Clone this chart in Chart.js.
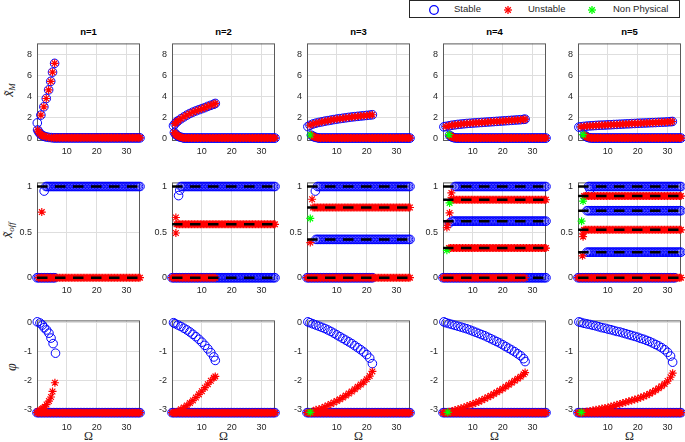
<!DOCTYPE html>
<html>
<head>
<meta charset="utf-8">
<script src="https://cdn.jsdelivr.net/npm/chart.js@4.4.1/dist/chart.umd.min.js"></script>
<style>
body { margin: 0; width: 685px; height: 442px; position: relative; overflow: hidden; background: #fff; font-family: "Liberation Sans", Arial, sans-serif; }
canvas { position: absolute; }
.ttl { position: absolute; width: 103px; text-align: center; font-weight: bold; font-size: 9.5px; line-height: 12px; color: #000; }
.xlab { position: absolute; width: 103px; text-align: center; font-family: "Liberation Serif", serif; font-size: 12px; line-height: 14px; color: #262626; }
.ylab { position: absolute; width: 70px; height: 14px; line-height: 14px; text-align: center; font-family: "Liberation Serif", serif; font-size: 14px; color: #262626; transform: rotate(-90deg); white-space: nowrap; }
.ylab sub { font-size: 9px; font-style: italic; vertical-align: -2px; }
#legend { position: absolute; left: 409px; top: 0px; width: 269px; height: 16px; border: 1px solid #262626; background: #fff; font-size: 9.5px; color: #262626; }
#legend span { position: absolute; top: 2px; line-height: 12px; }
#legend svg { position: absolute; top: 3px; }
</style>
</head>
<body>

<div id="legend">
  <svg style="left:18px" width="12" height="12"><circle cx="6" cy="6" r="4.3" fill="none" stroke="#0000ff" stroke-width="1.3"/></svg>
  <span style="left:44px">Stable</span>
  <svg style="left:92px" width="12" height="12" stroke="#ff0000" stroke-width="1.3"><line x1="6" y1="2" x2="6" y2="10"/><line x1="2" y1="6" x2="10" y2="6"/><line x1="3.2" y1="3.2" x2="8.8" y2="8.8"/><line x1="3.2" y1="8.8" x2="8.8" y2="3.2"/></svg>
  <span style="left:118px">Unstable</span>
  <svg style="left:176px" width="12" height="12" stroke="#00ff00" stroke-width="1.3"><line x1="6" y1="2" x2="6" y2="10"/><line x1="2" y1="6" x2="10" y2="6"/><line x1="3.2" y1="3.2" x2="8.8" y2="8.8"/><line x1="3.2" y1="8.8" x2="8.8" y2="3.2"/></svg>
  <span style="left:203px">Non Physical</span>
</div>

<div class="ylab" style="left:-26px; top:83px;"><i>x&#771;</i><sub>M</sub></div>
<div class="ylab" style="left:-27px; top:223px;"><i>x&#771;</i><sub>off</sub></div>
<div class="ylab" style="left:-23px; top:360px;"><i>&#966;</i></div>

<script>
// panel titles and shared tick values
var titles = ["n=1", "n=2", "n=3", "n=4", "n=5"];
var xTicks = [10, 20, 30];
var ampTicks = [0, 2, 4, 6, 8];
var offTicks = [0, 0.5, 1];
var phaseTicks = [-3, -2, -1, 0];

// frequency samples used by the flat branches
var omegaGrid = [0, 0.5, 1, 1.5, 2, 2.5, 3, 3.5, 4, 4.5, 5, 5.5, 6, 6.5, 7, 7.5, 8, 8.5, 9, 9.5,
  10, 10.5, 11, 11.5, 12, 12.5, 13, 13.5, 14, 14.5, 15, 15.5, 16, 16.5, 17, 17.5, 18, 18.5, 19, 19.5,
  20, 20.5, 21, 21.5, 22, 22.5, 23, 23.5, 24, 24.5, 25, 25.5, 26, 26.5, 27, 27.5, 28, 28.5, 29, 29.5,
  30, 30.5, 31, 31.5, 32, 32.5, 33, 33.5, 34, 34.5];

// ---- row 1 : amplitude x_M ----
var ampUpperX = [
  [0.1, 1.3, 2.3, 3.1, 3.9, 4.6, 5.2, 5.9],
  [0.5, 1, 1.5, 2, 3, 4, 5, 6, 7, 8, 9, 10, 11, 12, 13, 14, 14.5],
  [0.3, 1, 2, 3, 4, 5, 6, 7, 8, 9, 10, 11, 12, 13, 14, 15, 16, 17, 18, 19, 20, 21, 21.9],
  [0.3, 1, 2, 3, 4, 5, 6, 7, 8, 9, 10, 11, 12, 13, 14, 15, 16, 17, 18, 19, 20, 21, 22, 23, 24, 25, 26, 27, 27.5],
  [0.3, 1, 2, 3, 4, 5, 6, 7, 8, 9, 10, 11, 12, 13, 14, 15, 16, 17, 18, 19, 20, 21, 22, 23, 24, 25, 26, 27, 28, 29, 30, 31, 31.6]
];
var ampUpperY = [
  [1.52, 2.27, 3.06, 3.85, 4.67, 5.48, 6.36, 7.2],
  [1.25, 1.45, 1.6, 1.72, 1.92, 2.1, 2.27, 2.42, 2.55, 2.67, 2.78, 2.88, 2.98, 3.1, 3.2, 3.3, 3.38],
  [1.17, 1.3, 1.42, 1.5, 1.57, 1.63, 1.69, 1.74, 1.79, 1.84, 1.89, 1.93, 1.97, 2.01, 2.05, 2.09, 2.12, 2.15, 2.18, 2.21, 2.24, 2.27, 2.3],
  [1.15, 1.19, 1.25, 1.3, 1.34, 1.38, 1.41, 1.44, 1.47, 1.49, 1.51, 1.53, 1.55, 1.57, 1.59, 1.61, 1.63, 1.65, 1.67, 1.69, 1.71, 1.73, 1.75, 1.77, 1.79, 1.81, 1.83, 1.86, 1.88],
  [1.12, 1.15, 1.19, 1.22, 1.24, 1.26, 1.28, 1.3, 1.31, 1.32, 1.34, 1.35, 1.37, 1.38, 1.4, 1.41, 1.43, 1.44, 1.46, 1.47, 1.49, 1.5, 1.51, 1.52, 1.54, 1.55, 1.56, 1.58, 1.59, 1.6, 1.62, 1.64, 1.66]
];
var ampLowerX = [
  [0.2, 0.6, 1, 1.5, 2, 2.6, 3.2, 4, 4.8],
  [0.8, 1.2, 1.6, 2, 2.5, 3, 3.6],
  [1.5, 2, 2.5, 3, 3.6],
  [2.2, 2.6, 3, 3.5, 4],
  [2.2, 2.6, 3, 3.5, 4]
];
var ampLowerY = [
  [0.85, 0.65, 0.5, 0.38, 0.3, 0.23, 0.18, 0.14, 0.12],
  [0.6, 0.45, 0.35, 0.27, 0.2, 0.15, 0.12],
  [0.35, 0.25, 0.18, 0.14, 0.11],
  [0.35, 0.25, 0.18, 0.13, 0.1],
  [0.35, 0.25, 0.18, 0.13, 0.1]
];
var ampTailLevel = [0.1, 0.08, 0.08, 0.08, 0.08];
var ampTailFrom = [5.5, 4, 4, 4.5, 4.5];
var ampGreenX = [[], [], [1.1], [2], [1.7]];
var ampGreenY = [[], [], [0.37], [0.4], [0.4]];

// ---- row 2 : x_off levels ----
var offStableLevels = [[1, 0], [1, 0], [1, 0.42, 0], [1, 0.62, 0], [1, 0.735, 0.28, 0]];
var offStableFrom   = [[3, 0], [3, 0], [3.5, 2.8, 0], [4, 3, 0], [3.5, 3, 3, 0]];
var offStableTo     = [[34.5, 6], [34.5, 34.5], [34.5, 34.5, 22], [34.5, 34.5, 34.5], [34.5, 34.5, 34.5, 32.5]];
var offUnstableLevels = [[0], [0.585, 0], [0.77, 0], [0.855, 0.325, 0], [0.895, 0.525, 0]];
var offUnstableFrom   = [[0.5], [1.5, 0], [2, 0], [2.5, 2, 0], [2, 2, 0]];
var offUnstableTo     = [[34.5], [34.5, 14.5], [34.5, 34.5], [34.5, 34.5, 27.5], [34.5, 34.5, 34.5]];
var offStableExtraX = [[2.4], [2.2, 2.6], [2.8], [2.2], [4]];
var offStableExtraY = [[0.95], [0.9, 0.96], [0.95], [0.6], [0.97]];
var offUnstableExtraX = [[1.6], [1.3, 1.3], [1.7, 1.1], [2.8, 2.2, 1.3, 1.6], [1.7, 1.7, 1.5]];
var offUnstableExtraY = [[0.72], [0.66, 0.49], [0.86, 0.385], [0.93, 0.71, 0.55, 0.6], [0.45, 0.48, 0.24]];
var offGreenX = [[], [], [1.1], [2.2, 1.3], [1.7, 1.2]];
var offGreenY = [[], [], [0.65], [0.82, 0.3], [0.84, 0.62]];
var offDashLevels = [[1, 0], [1, 0.585, 0], [1, 0.77, 0.42, 0], [1, 0.855, 0.62, 0.325, 0], [1, 0.895, 0.735, 0.525, 0.28, 0]];

// ---- row 3 : phase ----
var phaseStableX = [
  [0.1, 1.0, 1.8, 2.4, 3.2, 4.0, 4.7, 5.4, 6.2],
  [0.5, 1, 2, 3, 4, 5, 6, 7, 8, 9, 10, 11, 12, 13, 14, 14.5],
  [0.3, 1, 2, 3, 4, 5, 6, 7, 8, 9, 10, 11, 12, 13, 14, 15, 16, 17, 18, 19, 20, 21, 21.9],
  [0.3, 1, 2, 3, 4, 5, 6, 7, 8, 9, 10, 11, 12, 13, 14, 15, 16, 17, 18, 19, 20, 21, 22, 23, 24, 25, 26, 27, 27.5],
  [0.3, 1, 2, 3, 4, 5, 6, 7, 8, 9, 10, 11, 12, 13, 14, 15, 16, 17, 18, 19, 20, 21, 22, 23, 24, 25, 26, 27, 28, 29, 30, 31, 31.7]
];
var phaseStableY = [
  [0.03, -0.01, -0.08, -0.17, -0.25, -0.36, -0.53, -0.72, -1.05],
  [0, -0.03, -0.08, -0.13, -0.19, -0.25, -0.32, -0.4, -0.48, -0.57, -0.67, -0.78, -0.9, -1.03, -1.18, -1.3],
  [0.03, 0, -0.04, -0.08, -0.12, -0.16, -0.2, -0.25, -0.3, -0.36, -0.42, -0.48, -0.54, -0.6, -0.66, -0.72, -0.79, -0.86, -0.93, -1.01, -1.1, -1.22, -1.41],
  [0.03, 0, -0.03, -0.06, -0.09, -0.12, -0.15, -0.18, -0.21, -0.25, -0.29, -0.33, -0.37, -0.41, -0.45, -0.5, -0.55, -0.6, -0.65, -0.7, -0.76, -0.82, -0.88, -0.94, -1.0, -1.07, -1.14, -1.24, -1.34],
  [0.03, 0.01, -0.02, -0.04, -0.06, -0.09, -0.11, -0.14, -0.17, -0.19, -0.22, -0.24, -0.27, -0.3, -0.32, -0.35, -0.38, -0.41, -0.44, -0.47, -0.5, -0.54, -0.57, -0.61, -0.65, -0.7, -0.75, -0.8, -0.86, -0.93, -1.02, -1.15, -1.36]
];
var phaseUnstableX = [
  [0.4, 1.0, 1.6, 2.0, 2.6, 3.2, 4.0, 4.7, 5.2, 6.0],
  [1, 2, 3, 4, 5, 6, 7, 8, 9, 10, 11, 12, 13, 14, 14.5],
  [1, 2, 3, 4, 5, 6, 7, 8, 9, 10, 11, 12, 13, 14, 15, 16, 17, 18, 19, 20, 21, 21.9],
  [1, 2, 3, 4, 5, 6, 7, 8, 9, 10, 11, 12, 13, 14, 15, 16, 17, 18, 19, 20, 21, 22, 23, 24, 25, 26, 27, 27.5],
  [1, 2, 3, 4, 5, 6, 7, 8, 9, 10, 11, 12, 13, 14, 15, 16, 17, 18, 19, 20, 21, 22, 23, 24, 25, 26, 27, 28, 29, 30, 31, 31.7]
];
var phaseUnstableY = [
  [-3.05, -3.02, -2.98, -2.95, -2.9, -2.82, -2.7, -2.56, -2.37, -2.07],
  [-3.1, -3.05, -2.98, -2.92, -2.85, -2.77, -2.68, -2.58, -2.47, -2.36, -2.24, -2.12, -2.0, -1.9, -1.85],
  [-3.1, -3.05, -3.0, -2.98, -2.95, -2.9, -2.85, -2.8, -2.75, -2.7, -2.64, -2.58, -2.51, -2.44, -2.37, -2.29, -2.21, -2.13, -2.05, -1.95, -1.84, -1.68],
  [-3.1, -3.07, -3.04, -3.01, -2.98, -2.95, -2.92, -2.88, -2.84, -2.8, -2.76, -2.72, -2.67, -2.62, -2.57, -2.52, -2.46, -2.4, -2.34, -2.28, -2.21, -2.14, -2.07, -2.0, -1.93, -1.86, -1.78, -1.72],
  [-3.1, -3.08, -3.06, -3.04, -3.02, -3.0, -2.98, -2.96, -2.94, -2.92, -2.89, -2.86, -2.83, -2.8, -2.77, -2.74, -2.71, -2.68, -2.65, -2.62, -2.58, -2.54, -2.5, -2.45, -2.39, -2.33, -2.26, -2.19, -2.11, -2.01, -1.88, -1.74]
];
var phaseFlatLevel = -3.1;
var phaseGreenX = [[], [], [1.1], [1.6], [1.1]];
var phaseGreenY = [[], [], [-3.09], [-3.09], [-3.09]];

// layout of the 3x5 grid (plot areas in page pixels)
var colLeft = [37, 172, 307, 443, 578];
var rowTop = [39, 178, 316];
var rowH = [102, 102, 101];
var plotW = 103;
var yMin = [-0.2, -0.025, -3.25];
var yMax = [9.1, 1.045, 0.08];
var yTickSets = [ampTicks, offTicks, phaseTicks];

function branchPoints(xs, ys) {
  var out = [];
  for (var i = 0; i < xs.length; i++) out.push({x: xs[i], y: ys[i]});
  return out;
}
function levelPoints(level, from, to) {
  var out = [];
  omegaGrid.forEach(function (w) { if (w >= from && w <= to) out.push({x: w, y: level}); });
  return out;
}

var boxPlugin = {
  id: 'box',
  beforeDatasetsDraw: function (chart) {
    var a = chart.chartArea, c = chart.ctx;
    c.save();
    c.strokeStyle = '#5a5a5a';
    c.lineWidth = 1;
    c.strokeRect(a.left + 0.5, a.top + 0.5, a.right - a.left - 1, a.bottom - a.top - 1);
    c.restore();
  }
};

function stableSet(data) {
  return { data: data, pointStyle: 'circle', pointRadius: 4.3, pointBorderColor: '#0000ff',
    pointBackgroundColor: 'rgba(0,0,0,0)', pointBorderWidth: 1, showLine: false, order: 3, clip: false };
}
function unstableSet(data) {
  return { data: data, pointStyle: 'star', pointRadius: 4, pointBorderColor: '#ff0000',
    pointBackgroundColor: '#ff0000', pointBorderWidth: 1.2, showLine: false, order: 2, clip: false };
}
function greenSet(data) {
  return { data: data, pointStyle: 'star', pointRadius: 4, pointBorderColor: '#00ff00',
    pointBackgroundColor: '#00ff00', pointBorderWidth: 1.2, showLine: false, order: 1, clip: false };
}
function dashSet(level) {
  return { data: levelPoints(level, 0, 34.5), showLine: true, borderColor: '#000', borderWidth: 2.5,
    borderDash: [10.5, 7.5], pointRadius: 0, order: 0 };
}

function makePanel(row, col, datasets) {
  var cv = document.createElement('canvas');
  cv.width = 32 + plotW + 6;
  cv.height = 6 + rowH[row] + 20;
  cv.style.left = (colLeft[col] - 32) + 'px';
  cv.style.top = (rowTop[row] - 6) + 'px';
  document.body.appendChild(cv);
  var tickSet = yTickSets[row];
  new Chart(cv.getContext('2d'), {
    type: 'scatter',
    data: { datasets: datasets },
    plugins: [boxPlugin],
    options: {
      responsive: false, animation: false, events: [],
      layout: { padding: { top: 6, right: 6, left: 0, bottom: 0 } },
      plugins: { legend: { display: false }, tooltip: { enabled: false } },
      scales: {
        x: {
          type: 'linear', min: 0, max: 34.5,
          afterBuildTicks: function (s) { s.ticks = xTicks.map(function (v) { return {value: v}; }); },
          afterFit: function (s) { s.height = 20; },
          grid: { color: '#dedede', drawTicks: false },
          border: { display: false },
          ticks: { color: '#262626', font: { family: 'Liberation Sans', size: 9 }, padding: 5, maxRotation: 0, autoSkip: false }
        },
        y: {
          type: 'linear', min: yMin[row], max: yMax[row],
          afterBuildTicks: function (s) { s.ticks = tickSet.map(function (v) { return {value: v}; }); },
          afterFit: function (s) { s.width = 32; },
          grid: { color: '#dedede', drawTicks: false },
          border: { display: false },
          ticks: { color: '#262626', font: { family: 'Liberation Sans', size: 9 }, padding: 5, autoSkip: false,
            callback: function (v) { return String(v); } }
        }
      }
    }
  });
}

for (var i = 0; i < 5; i++) {
  // titles and x labels
  var t = document.createElement('div');
  t.className = 'ttl'; t.textContent = titles[i];
  t.style.left = colLeft[i] + 'px'; t.style.top = '26px';
  document.body.appendChild(t);
  var xl = document.createElement('div');
  xl.className = 'xlab'; xl.textContent = '\u03A9';
  xl.style.left = colLeft[i] + 'px'; xl.style.top = '429px';
  document.body.appendChild(xl);

  // row 1
  var tail = levelPoints(ampTailLevel[i], ampTailFrom[i], 34.5);
  var lower = branchPoints(ampLowerX[i], ampLowerY[i]);
  makePanel(0, i, [
    stableSet(branchPoints(ampUpperX[i], ampUpperY[i]).concat(lower, tail)),
    unstableSet(branchPoints(ampUpperX[i].slice(1), ampUpperY[i].slice(1)).concat(lower, tail)),
    greenSet(branchPoints(ampGreenX[i], ampGreenY[i]))
  ]);

  // row 2
  var st = branchPoints(offStableExtraX[i], offStableExtraY[i]);
  offStableLevels[i].forEach(function (lv, k) { st = st.concat(levelPoints(lv, offStableFrom[i][k], offStableTo[i][k])); });
  var un = branchPoints(offUnstableExtraX[i], offUnstableExtraY[i]);
  offUnstableLevels[i].forEach(function (lv, k) { un = un.concat(levelPoints(lv, offUnstableFrom[i][k], offUnstableTo[i][k])); });
  var sets2 = [stableSet(st), unstableSet(un), greenSet(branchPoints(offGreenX[i], offGreenY[i]))];
  offDashLevels[i].forEach(function (lv) { sets2.push(dashSet(lv)); });
  makePanel(1, i, sets2);

  // row 3
  var flat = levelPoints(phaseFlatLevel, 0, 34.5);
  makePanel(2, i, [
    stableSet(branchPoints(phaseStableX[i], phaseStableY[i]).concat(flat)),
    unstableSet(branchPoints(phaseUnstableX[i], phaseUnstableY[i]).concat(flat)),
    greenSet(branchPoints(phaseGreenX[i], phaseGreenY[i]))
  ]);
}
</script>
</body>
</html>
